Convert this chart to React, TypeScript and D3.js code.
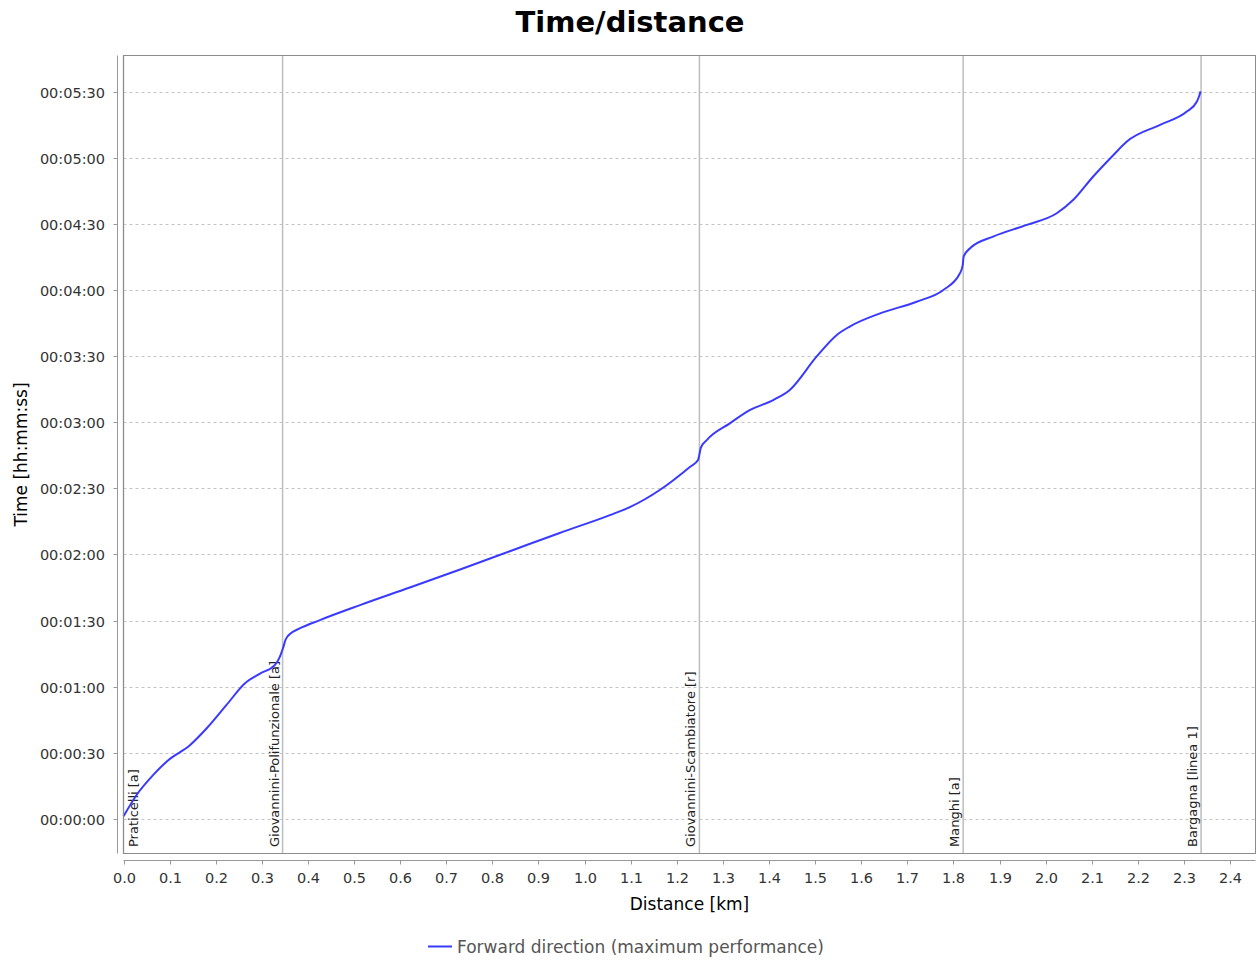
import React, { useRef, useEffect } from "react";
import * as d3 from "d3";

// distance along the route (km) and elapsed time (s)
const distanceKm = [
  0, 0.028, 0.064, 0.097, 0.144, 0.18, 0.223, 0.263, 0.296, 0.328, 0.339, 0.346, 0.352, 0.365, 0.382, 0.426,
  0.513, 0.621, 0.73, 0.838, 0.946, 1.055, 1.098, 1.163, 1.229, 1.246, 1.249, 1.252, 1.265, 1.315, 1.359,
  1.409, 1.445, 1.503, 1.547, 1.575, 1.641, 1.72, 1.778, 1.814, 1.82, 1.822, 1.836, 1.886, 1.959, 2.024,
  2.06, 2.103, 2.147, 2.176, 2.248, 2.306, 2.328, 2.333, 2.336,
];
const timeSec = [
  1, 10.6, 19.7, 26.5, 33.3, 40.9, 51.5, 61.4, 65.9, 69.7, 73.5, 77.5, 81.5, 84.5, 86.4, 90.2,
  97.0, 105.0, 113.2, 121.5, 129.8, 137.9, 141.5, 149.3, 159.9, 162.9, 165.5, 168.5, 172.0, 179.6, 185.7,
  190.2, 194.8, 209.9, 219.8, 223.6, 229.6, 234.9, 240.2, 247.8, 251.5, 255.4, 259.2, 264.5, 269.8, 275.1,
  281.2, 291.8, 301.6, 307.7, 315.3, 321.3, 325.9, 328.5, 330.5,
];

const stopNames = [
  "Praticelli [a]",
  "Giovannini-Polifunzionale [a]",
  "Giovannini-Scambiatore [r]",
  "Manghi [a]",
  "Bargagna [linea 1]",
];
const stopKm = [0, 0.345, 1.249, 1.821, 2.337];

const xTicks = d3.range(0, 25).map((i) => i / 10);
const yTicks = d3.range(0, 331, 30);

const seriesName = "Forward direction (maximum performance)";

const W = 1258;
const H = 965;
const FONT = "'DejaVu Sans', sans-serif";

function hms(s: number) {
  const h = Math.floor(s / 3600);
  const m = Math.floor((s % 3600) / 60);
  const sec = Math.round(s % 60);
  const p = (n: number) => String(n).padStart(2, "0");
  return `${p(h)}:${p(m)}:${p(sec)}`;
}

function TimeDistance() {
  const svgRef = useRef<SVGSVGElement>(null);

  useEffect(() => {
    const svg = d3.select(svgRef.current);
    svg.selectAll("*").remove();

    const left = 123.5;
    const right = 1255.5;
    const top = 55.5;
    const bottom = 853.5;

    const x = d3.scaleLinear().domain([0, 2.455]).range([left, right]);
    const y = d3.scaleLinear().domain([-15.9, 346.8]).range([bottom, top]);

    svg.append("rect").attr("width", W).attr("height", H).attr("fill", "#fff");

    // title
    svg.append("text")
      .attr("x", 630).attr("y", 32)
      .attr("text-anchor", "middle")
      .attr("font-family", FONT).attr("font-weight", "bold").attr("font-size", 29)
      .attr("fill", "#000")
      .text("Time/distance");

    // horizontal grid
    svg.append("g")
      .selectAll("line")
      .data(yTicks)
      .join("line")
      .attr("x1", left).attr("x2", right)
      .attr("y1", (d) => Math.round(y(d)) + 0.5).attr("y2", (d) => Math.round(y(d)) + 0.5)
      .attr("stroke", "#c4c4c4").attr("stroke-dasharray", "3,3");

    // stop markers
    const markers = svg.append("g");
    markers.selectAll("line")
      .data(stopKm)
      .join("line")
      .attr("x1", (d) => x(d)).attr("x2", (d) => x(d))
      .attr("y1", top).attr("y2", bottom)
      .attr("stroke", "#bdbdbd").attr("stroke-width", 1.5);

    markers.selectAll("text")
      .data(stopKm)
      .join("text")
      .attr("transform", (d) => {
        const lx = x(d) - 10 < left + 2 ? x(d) + 14 : x(d) - 4;
        return `translate(${lx},847) rotate(-90)`;
      })
      .attr("font-family", FONT).attr("font-size", 13)
      .attr("fill", "#222")
      .text((d, i) => stopNames[i]);

    // series
    const pts = distanceKm.map((d, i) => [d, timeSec[i]] as [number, number]);
    const line = d3.line<[number, number]>()
      .x((d) => x(d[0]))
      .y((d) => y(d[1]))
      .curve(d3.curveMonotoneX);
    svg.append("path")
      .datum(pts)
      .attr("d", line)
      .attr("fill", "none")
      .attr("stroke", "#3a3aff")
      .attr("stroke-width", 2);

    // plot border
    svg.append("rect")
      .attr("x", left).attr("y", top)
      .attr("width", right - left).attr("height", bottom - top)
      .attr("fill", "none").attr("stroke", "#8c8c8c");

    // y axis
    const yAxisX = 117.5;
    const yAx = svg.append("g").attr("font-family", FONT);
    yAx.append("line")
      .attr("x1", yAxisX).attr("x2", yAxisX).attr("y1", top).attr("y2", bottom)
      .attr("stroke", "#999");
    const yt = yAx.selectAll("g").data(yTicks).join("g")
      .attr("transform", (d) => `translate(0,${Math.round(y(d)) + 0.5})`);
    yt.append("line").attr("x1", yAxisX - 4).attr("x2", yAxisX).attr("stroke", "#999");
    yt.append("text")
      .attr("x", 105).attr("dy", "0.36em")
      .attr("text-anchor", "end").attr("font-size", 14.5).attr("fill", "#333")
      .text((d) => hms(d));

    yAx.append("text")
      .attr("transform", `translate(27,${(top + bottom) / 2}) rotate(-90)`)
      .attr("text-anchor", "middle").attr("font-size", 17).attr("fill", "#000")
      .text("Time [hh:mm:ss]");

    // x axis
    const xAxisY = 860.5;
    const xAx = svg.append("g").attr("font-family", FONT);
    xAx.append("line")
      .attr("x1", left).attr("x2", right).attr("y1", xAxisY).attr("y2", xAxisY)
      .attr("stroke", "#999");
    const xt = xAx.selectAll("g").data(xTicks).join("g")
      .attr("transform", (d) => `translate(${Math.round(x(d)) + 0.5},0)`);
    xt.append("line").attr("y1", xAxisY).attr("y2", xAxisY + 4).attr("stroke", "#999");
    xt.append("text")
      .attr("y", 883)
      .attr("text-anchor", "middle").attr("font-size", 14.5).attr("fill", "#333")
      .text((d) => d.toFixed(1));

    xAx.append("text")
      .attr("x", (left + right) / 2).attr("y", 910)
      .attr("text-anchor", "middle").attr("font-size", 17).attr("fill", "#000")
      .text("Distance [km]");

    // legend
    const lg = svg.append("g").attr("font-family", FONT);
    lg.append("line")
      .attr("x1", 428).attr("x2", 452).attr("y1", 946.5).attr("y2", 946.5)
      .attr("stroke", "#3a3aff").attr("stroke-width", 2);
    lg.append("text")
      .attr("x", 457).attr("y", 953)
      .attr("font-size", 17).attr("fill", "#555")
      .text(seriesName);
  }, []);

  return <svg ref={svgRef} width={W} height={H} style={{ display: "block" }}></svg>;
}

export default function App() {
  return (
    <div style={{ position: "absolute", left: 0, top: 0 }}>
      <TimeDistance />
    </div>
  );
}
